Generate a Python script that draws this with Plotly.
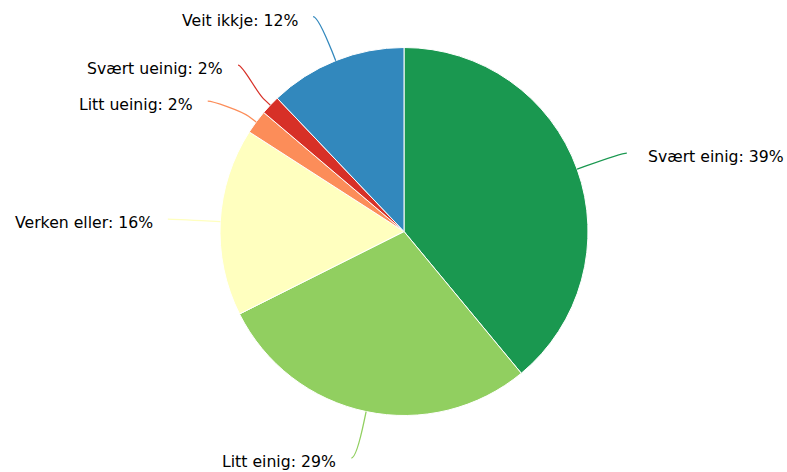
import math
import plotly.graph_objects as go

# ---- data ----
labels = ["Svært einig", "Litt einig", "Verken eller", "Litt ueinig", "Svært ueinig", "Veit ikkje"]
values = [39.0, 28.6, 16.5, 2.1, 1.7, 12.1]
colors = ["#1a9850", "#91cf60", "#ffffbf", "#fc8d59", "#d73027", "#3288bd"]

# ---- layout parameters ----
W, H = 787, 472
M = dict(l=220, r=199, t=47, b=56)
LABEL_DIST = 47.5   # distance of label anchors beyond the pie edge
PAD = 5             # connector padding
MIN_GAP = 36        # minimum vertical spacing between labels on one side
BREAK = 9.5         # connector break offset
TEXT_GAP_R = 19
TEXT_GAP_L = 13
TEXT_DY = 3.5
FONT = dict(family="DejaVu Sans", size=15.7, color="#000000")

pw = W - M["l"] - M["r"]
ph = H - M["t"] - M["b"]
R = min(pw, ph) / 2
cx = M["l"] + pw / 2
cy = M["t"] + ph / 2
RL = R + LABEL_DIST


def to_paper(px, py):
    return (px - M["l"]) / pw, (H - M["b"] - py) / ph


total = sum(values)
mids = []
cum = 0.0
for v in values:
    mids.append((cum + v / 2) / total * 2 * math.pi)
    cum += v

natural = [(cx + RL * math.sin(t), cy - RL * math.cos(t)) for t in mids]
side = ["right" if math.sin(t) >= 0 else "left" for t in mids]
final_y = [p[1] for p in natural]


def distribute(idx):
    idx = sorted(idx, key=lambda i: natural[i][1])
    clusters = [[i] for i in idx]
    changed = True
    pos = {}
    while changed:
        changed = False
        pos = {}
        for c in clusters:
            center = sum(natural[i][1] for i in c) / len(c)
            start = center - (len(c) - 1) * MIN_GAP / 2
            for k, i in enumerate(c):
                pos[i] = start + k * MIN_GAP
        for a in range(len(clusters) - 1):
            if pos[clusters[a + 1][0]] - pos[clusters[a][-1]] < MIN_GAP:
                clusters[a] = clusters[a] + clusters[a + 1]
                del clusters[a + 1]
                changed = True
                break
    for i in idx:
        final_y[i] = pos[i]
    return idx


annotations = []
shapes = []
for s in ("left", "right"):
    order = distribute([i for i in range(len(values)) if side[i] == s])
    sign = 1 if s == "right" else -1
    for j, i in enumerate(order):
        y = final_y[i]
        yy = natural[i][1] if (j == 0 or j == len(order) - 1) else y
        dy = max(-RL, min(RL, yy - cy))
        ax = cx + sign * (math.sqrt(RL * RL - dy * dy) + PAD)
        ay = y
        t = mids[i]
        tx, ty = cx + R * math.sin(t), cy - R * math.cos(t)
        bx, by = cx + (R + BREAK) * math.sin(t), cy - (R + BREAK) * math.cos(t)
        c1 = (ax - sign * 5, ay)
        c2 = (2 * bx - tx, 2 * by - ty)
        pts = [to_paper(ax, ay), to_paper(*c1), to_paper(*c2), to_paper(bx, by), to_paper(tx, ty)]
        path = "M {0[0]},{0[1]} C {1[0]},{1[1]} {2[0]},{2[1]} {3[0]},{3[1]} L {4[0]},{4[1]}".format(*pts)
        shapes.append(dict(type="path", xref="paper", yref="paper", path=path,
                           line=dict(color=colors[i], width=1.3), layer="above"))
        pct = round(values[i] / total * 100)
        gx = ax + sign * (TEXT_GAP_R if s == "right" else TEXT_GAP_L)
        px, py = to_paper(gx, ay + TEXT_DY)
        annotations.append(dict(x=px, y=py, xref="paper", yref="paper",
                                text=f"{labels[i]}: {pct}%", showarrow=False,
                                xanchor="left" if s == "right" else "right",
                                yanchor="middle", font=FONT))

fig = go.Figure(go.Pie(
    labels=labels, values=values, sort=False, direction="clockwise", rotation=0,
    marker=dict(colors=colors, line=dict(color="#ffffff", width=1)),
    textinfo="none", hoverinfo="label+percent", showlegend=False,
))
fig.update_layout(
    width=W, height=H, margin=M, paper_bgcolor="#ffffff", plot_bgcolor="#ffffff",
    annotations=annotations, shapes=shapes, showlegend=False,
)
fig.write_html("out.html", config={"displayModeBar": False},
               post_script="document.body.style.margin='0';document.body.style.overflow='hidden';")
